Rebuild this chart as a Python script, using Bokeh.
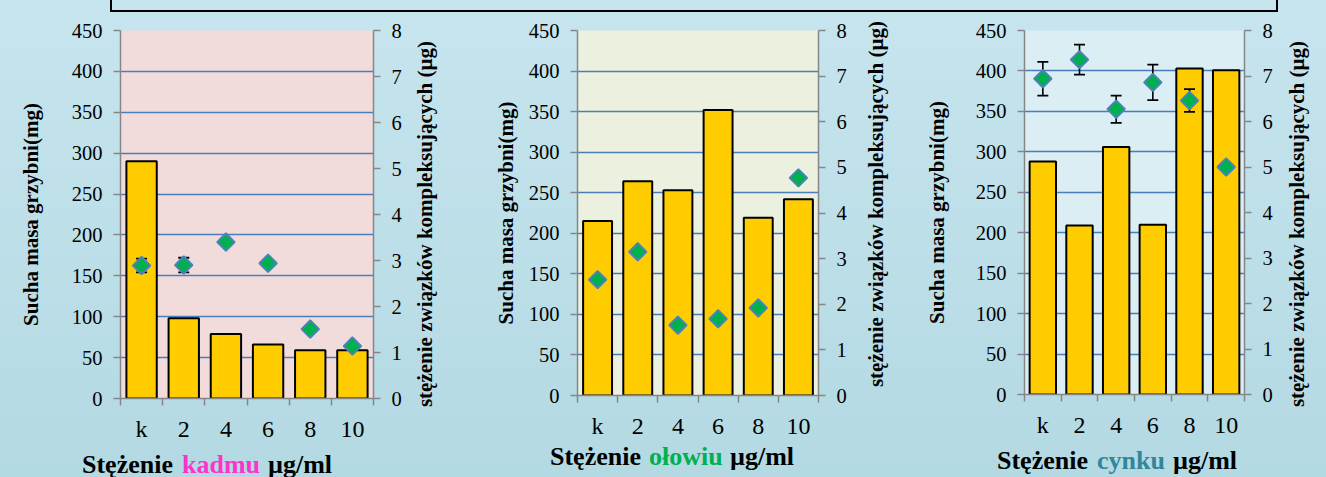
from bokeh.plotting import figure
from bokeh.models import (Range1d, LinearAxis, FixedTicker, Div)
from bokeh.layouts import row, column
from bokeh.embed import file_html
from bokeh.resources import INLINE

# ---------------- data ----------------
categories = ["k", "2", "4", "6", "8", "10"]

cd_mass = [290, 98, 79, 66, 59, 59]
cd_conc = [2.89, 2.90, 3.40, 2.94, 1.51, 1.14]
cd_err = [0.15, 0.16, 0, 0, 0, 0]

pb_mass = [215, 264, 253, 352, 219, 242]
pb_conc = [2.54, 3.15, 1.54, 1.68, 1.92, 4.77]
pb_err = [0, 0, 0, 0, 0, 0]

zn_mass = [288, 209, 306, 210, 403, 401]
zn_conc = [6.94, 7.36, 6.27, 6.86, 6.46, 5.00]
zn_err = [0.37, 0.33, 0.30, 0.39, 0.25, 0]

left_ticks = list(range(0, 451, 50))
right_ticks = list(range(0, 9))

metals = ["kadmu", "ołowiu", "cynku"]
metal_colors = ["#ff33cc", "#00b050", "#31859c"]

y_title = "Sucha masa grzybni(mg)"
y2_title = "stężenie związków kompleksujących (µg)"
x_title_parts = ["Stężenie", None, "µg/ml"]

# ---------------- style ----------------
FONT = "Liberation Serif"
AXIS_GRAY = "#868686"
GRID_BLUE = "#4a7ebb"
BAR_FILL = "#ffcc00"
MARK_FILL = "#00b050"
MARK_LINE = "#4f81bd"
DIV_TOP = 444  # page y where the title strip starts

panels = [
    dict(mass=cd_mass, conc=cd_conc, err=cd_err, bg="#f2dcdb", metal=0,
         left=120, fw=253, right=92, top=17, fh=368, bottom=47,
         lstand=26, xpos=(82, 182, 268), ytop=8, r_c=(425, 224)),
    dict(mass=pb_mass, conc=pb_conc, err=pb_err, bg="#ebf1de", metal=1,
         left=112, fw=241, right=87, top=16, fh=365, bottom=51,
         lstand=8, xpos=(550, 649, 730), ytop=0, r_c=(876, 204)),
    dict(mass=zn_mass, conc=zn_conc, err=zn_err, bg="#dbeef4", metal=2,
         left=119, fw=220, right=82, top=18, fh=364, bottom=50,
         lstand=24, xpos=(997, 1097, 1173), ytop=4, r_c=(1297, 224)),
]


def make_panel(cfg):
    xs = [i + 0.5 for i in range(len(categories))]
    p = figure(output_backend="svg", toolbar_location=None,
               frame_width=cfg["fw"], frame_height=cfg["fh"],
               min_border_left=cfg["left"], min_border_right=cfg["right"],
               min_border_top=cfg["top"], min_border_bottom=cfg["bottom"],
               x_range=Range1d(0, 6), y_range=Range1d(0, 450),
               border_fill_color=None, background_fill_color=cfg["bg"],
               outline_line_color=None)
    p.extra_y_ranges = {"right": Range1d(0, 8)}

    # x axis
    xa = p.xaxis[0]
    xa.ticker = FixedTicker(ticks=xs, minor_ticks=list(range(0, 7)))
    xa.major_label_overrides = {x: c for x, c in zip(xs, categories)}
    xa.major_tick_line_color = None
    xa.major_tick_out = 0
    xa.minor_tick_out = 7
    xa.minor_tick_in = 0
    xa.minor_tick_line_color = AXIS_GRAY
    xa.minor_tick_line_width = 1.5
    xa.axis_line_color = AXIS_GRAY
    xa.axis_line_width = 1.5
    xa.major_label_text_font = FONT
    xa.major_label_text_font_size = "24px"
    xa.major_label_text_color = "black"
    xa.major_label_standoff = 10
    p.xgrid.visible = False

    # left axis
    ya = p.yaxis[0]
    ya.ticker = FixedTicker(ticks=left_ticks)
    ya.axis_line_color = AXIS_GRAY
    ya.axis_line_width = 1.5
    ya.major_tick_line_color = AXIS_GRAY
    ya.major_tick_line_width = 1.5
    ya.major_tick_out = 7
    ya.major_tick_in = 0
    ya.minor_tick_line_color = None
    ya.major_label_text_font = FONT
    ya.major_label_text_font_size = "20.5px"
    ya.major_label_text_color = "black"
    ya.major_label_standoff = 11
    ya.axis_label = y_title
    ya.axis_label_text_font = FONT
    ya.axis_label_text_font_style = "bold"
    ya.axis_label_text_font_size = "21px"
    ya.axis_label_text_color = "black"
    ya.axis_label_standoff = cfg["lstand"]

    p.ygrid.ticker = FixedTicker(ticks=left_ticks)
    p.ygrid.grid_line_color = GRID_BLUE
    p.ygrid.grid_line_width = 1.6

    # right axis (its title is drawn as rotated HTML text below)
    ra = LinearAxis(y_range_name="right", ticker=FixedTicker(ticks=right_ticks))
    ra.axis_line_color = AXIS_GRAY
    ra.axis_line_width = 1.5
    ra.major_tick_line_color = AXIS_GRAY
    ra.major_tick_line_width = 1.5
    ra.major_tick_out = 7
    ra.major_tick_in = 0
    ra.minor_tick_line_color = None
    ra.major_label_text_font = FONT
    ra.major_label_text_font_size = "20.5px"
    ra.major_label_text_color = "black"
    ra.major_label_standoff = 11
    p.add_layout(ra, "right")

    # bars
    p.vbar(x=xs, top=cfg["mass"], width=0.72, fill_color=BAR_FILL,
           line_color="black", line_width=2)

    # error bars
    ex = [x for x, e in zip(xs, cfg["err"]) if e > 0]
    eu = [c + e for c, e in zip(cfg["conc"], cfg["err"]) if e > 0]
    el = [c - e for c, e in zip(cfg["conc"], cfg["err"]) if e > 0]
    if ex:
        p.segment(x0=ex, y0=el, x1=ex, y1=eu, line_color="black",
                  line_width=1.6, y_range_name="right")
        p.scatter(x=ex + ex, y=eu + el, marker="dash", size=11,
                  line_color="black", line_width=1.8, y_range_name="right")

    # diamonds
    p.scatter(x=xs, y=cfg["conc"], marker="square", angle=0.7854, size=12.5,
              fill_color=MARK_FILL, line_color=MARK_LINE, line_width=1.8,
              y_range_name="right")
    return p


figs = [make_panel(c) for c in panels]

# x titles with a coloured metal name, plus the right-axis titles
spans = []
for cfg in panels:
    texts = [x_title_parts[0], metals[cfg["metal"]], x_title_parts[2]]
    cols = ["black", metal_colors[cfg["metal"]], "black"]
    for t, c, xp in zip(texts, cols, cfg["xpos"]):
        spans.append(
            f'<span style="position:absolute;left:{xp}px;top:{cfg["ytop"]}px;'
            f'font-size:26px;line-height:26px;white-space:nowrap;color:{c}">{t}</span>')
    cx, cy = cfg["r_c"]
    spans.append(
        f'<span style="position:absolute;left:{cx}px;top:{cy - DIV_TOP}px;'
        'font-size:21px;line-height:22px;white-space:nowrap;color:black;'
        'transform:translate(-50%,-50%) rotate(-90deg);">'
        f'{y2_title}</span>')
title_html = ('<div style="position:relative;width:1326px;height:33px;overflow:visible;'
              f"font-family:'{FONT}';font-weight:bold;\">"
              + "".join(spans) + "</div>")
titles = Div(text=title_html, width=1326, height=33, margin=0,
             styles={"overflow": "visible", "z-index": "10"})

banner = Div(text="", width=1168, height=12, margin=(0, 0, 0, 110),
             styles={"border-left": "2px solid black",
                     "border-right": "2px solid black",
                     "border-bottom": "2px solid black",
                     "box-sizing": "border-box"})

layout = column(banner, row(*figs, spacing=0), titles, spacing=0,
                styles={"background": "linear-gradient(#c7e5ee, #b3d9e3)"})

open("out.html", "w").write(file_html(layout, INLINE))
